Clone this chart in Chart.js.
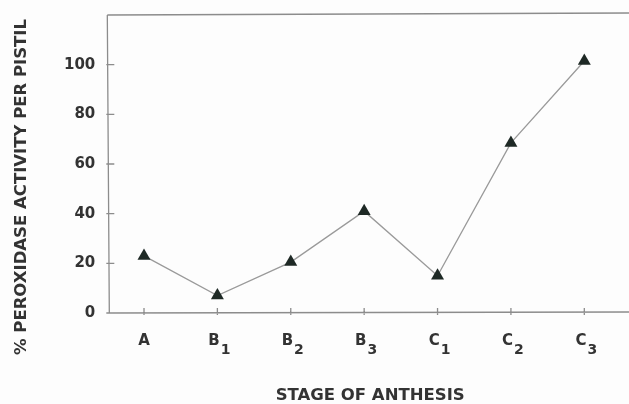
<!DOCTYPE html>
<html>
<head>
<meta charset="utf-8">
<script src="https://cdn.jsdelivr.net/npm/chart.js@4/dist/chart.umd.min.js"></script>
<style>
  html, body { margin: 0; padding: 0; background: #fdfdfd; }
  #wrap { width: 629px; height: 404px; position: relative; }
</style>
</head>
<body>
<div id="wrap"><canvas id="chart"></canvas></div>
<script>
// Stage of anthesis (letter + subscript stage number)
const stages = ['A', 'B1', 'B2', 'B3', 'C1', 'C2', 'C3'];
// Peroxidase activity per pistil, %
const peroxidaseActivity = [23, 7, 20.5, 41, 15, 68.5, 101.5];
// Labelled values on the y axis
const yTickValues = [0, 20, 40, 60, 80, 100];

const TEXT = '#333333';
const AXIS = '#8c8c8c';

// Frame, inward tick marks, subscripted stage labels and axis titles
const framePlugin = {
  id: 'frame',
  afterDraw(chart) {
    const { ctx, chartArea: a, scales: { x, y } } = chart;
    const W = chart.width;
    ctx.save();
    ctx.strokeStyle = AXIS;
    ctx.lineWidth = 1.3;
    ctx.beginPath();
    ctx.moveTo(a.left, a.top); ctx.lineTo(W, a.top - 2);
    ctx.moveTo(a.left, a.top); ctx.lineTo(a.left + 2, a.bottom);
    ctx.moveTo(a.left, a.bottom); ctx.lineTo(W, a.bottom - 1);
    // y tick marks
    yTickValues.forEach(v => {
      const py = y.getPixelForValue(v);
      ctx.moveTo(a.left - 1, py); ctx.lineTo(a.left + 7, py);
    });
    // x tick marks
    stages.forEach((s, i) => {
      const px = x.getPixelForValue(i);
      ctx.moveTo(px, a.bottom - 5); ctx.lineTo(px, a.bottom + 2);
    });
    ctx.stroke();

    // stage labels with subscripts
    ctx.fillStyle = TEXT;
    ctx.textBaseline = 'alphabetic';
    ctx.textAlign = 'left';
    const mainFont = 'bold 15px "DejaVu Sans"';
    const subFont = 'bold 14px "DejaVu Sans"';
    stages.forEach((s, i) => {
      const px = x.getPixelForValue(i);
      const main = s.charAt(0), sub = s.slice(1);
      ctx.font = mainFont;
      const wm = ctx.measureText(main).width;
      ctx.font = subFont;
      const ws = sub ? ctx.measureText(sub).width + 1 : 0;
      const sx = px - (wm + ws) / 2 + (sub ? 2 : 0);
      ctx.font = mainFont;
      ctx.fillText(main, sx, a.bottom + 32);
      if (sub) {
        ctx.font = subFont;
        ctx.fillText(sub, sx + wm + 1, a.bottom + 41);
      }
    });

    // x-axis title
    ctx.font = 'bold 16.5px "DejaVu Sans"';
    ctx.textAlign = 'center';
    ctx.fillText('STAGE OF ANTHESIS', (a.left + W) / 2 + 2, 400);

    // y-axis title
    ctx.save();
    ctx.translate(26, 187);
    ctx.rotate(-Math.PI / 2);
    ctx.font = 'bold 16.5px "DejaVu Sans"';
    ctx.fillText('% PEROXIDASE ACTIVITY PER PISTIL', 0, 0);
    ctx.restore();
    ctx.restore();
  }
};

new Chart(document.getElementById('chart'), {
  type: 'line',
  data: {
    labels: stages,
    datasets: [{
      data: peroxidaseActivity,
      borderColor: '#9a9a9a',
      borderWidth: 1.3,
      pointStyle: 'triangle',
      pointRadius: 7.5,
      pointBorderWidth: 0,
      pointBackgroundColor: '#1e2925',
      tension: 0,
      fill: false
    }]
  },
  options: {
    responsive: true,
    maintainAspectRatio: false,
    animation: false,
    events: [],
    layout: { padding: { left: 52, right: 8, top: 15, bottom: 91 } },
    plugins: { legend: { display: false }, tooltip: { enabled: false } },
    scales: {
      x: {
        type: 'category',
        offset: true,
        display: false
      },
      y: {
        min: 0,
        max: 120,
        afterBuildTicks(scale) {
          scale.ticks = yTickValues.map(v => ({ value: v }));
        },
        afterFit(scale) {
          scale.paddingTop = 0;
          scale.paddingBottom = 0;
        },
        grid: { display: false, drawTicks: false },
        border: { display: false },
        ticks: {
          padding: 12,
          color: TEXT,
          font: { family: '"DejaVu Sans"', size: 15, weight: 'bold' }
        }
      }
    }
  },
  plugins: [framePlugin]
});
</script>
</body>
</html>
